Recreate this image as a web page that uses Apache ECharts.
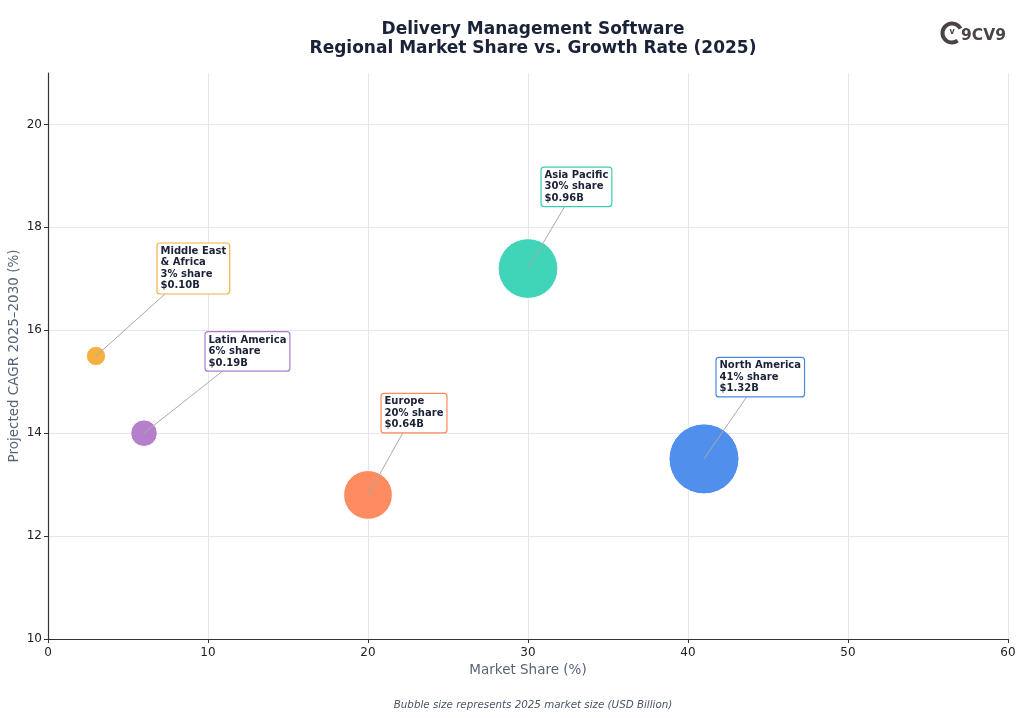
<!DOCTYPE html>
<html>
<head>
<meta charset="utf-8">
<script src="https://cdn.jsdelivr.net/npm/echarts@6/dist/echarts.min.js"></script>
<style>
html,body{margin:0;padding:0;background:#fff;}
#chart{width:1024px;height:718px;}
</style>
</head>
<body>
<div id="chart"></div>
<script>
// ---- data ----
const regions = ['North America', 'Asia Pacific', 'Europe', 'Latin America', 'Middle East & Africa'];
const marketShare = [41, 30, 20, 6, 3];          // %
const cagr = [13.5, 17.2, 12.8, 14.0, 15.5];     // projected CAGR 2025-2030 %
const marketSize = [1.32, 0.96, 0.64, 0.19, 0.10]; // USD Billion
const xTicks = [0, 10, 20, 30, 40, 50, 60];
const yTicks = [10, 12, 14, 16, 18, 20];

// ---- style ----
const colors = ['#5090EC', '#40D4B8', '#FF8C61', '#B57FCB', '#F6B042'];
const borderColors = ['#4A86E8', '#3CCDB0', '#FF8A5B', '#B07CC6', '#F5B041'];
const labelOffsets = [[12, -62], [13, -62], [13, -62], [61, -62], [61, -62]];
const FONT = '"DejaVu Sans", Verdana, sans-serif';
const labelFont = 'bold 10px ' + FONT;
const LINE_H = 11.5;

const measureCtx = document.createElement('canvas').getContext('2d');
measureCtx.font = labelFont;

function labelText(i) {
  const name = regions[i].replace(' & ', '\n& ');
  return name + '\n' + marketShare[i] + '% share\n$' + marketSize[i].toFixed(2) + 'B';
}

const bubbleData = marketShare.map((x, i) => ({
  value: [x, cagr[i], marketSize[i]],
  name: regions[i],
  itemStyle: { color: colors[i] }
}));
const annoData = marketShare.map((x, i) => [x, cagr[i]]);

const chart = echarts.init(document.getElementById('chart'));
chart.setOption({
  animation: false,
  backgroundColor: '#fff',
  title: [{
    text: 'Delivery Management Software\nRegional Market Share vs. Growth Rate (2025)',
    left: 528, top: 15, textAlign: 'center',
    textStyle: { fontFamily: FONT, fontWeight: 'bold', fontSize: 17, lineHeight: 19, color: '#1a2238' }
  }, {
    text: 'Bubble size represents 2025 market size (USD Billion)',
    left: 528, top: 695, textAlign: 'center',
    textStyle: { fontFamily: FONT, fontStyle: 'italic', fontWeight: 'normal', fontSize: 10.3, color: '#4a5568' }
  }],
  grid: { left: 48, right: 16, top: 73, bottom: 79, containLabel: false, outerBoundsMode: 'none' },
  xAxis: {
    type: 'value', min: 0, max: 60, interval: 10,
    name: 'Market Share (%)', nameLocation: 'middle', nameGap: 24,
    nameTextStyle: { fontFamily: FONT, fontSize: 13.5, color: '#5a6478' },
    axisLine: { show: true, lineStyle: { color: '#333', width: 1.2 } },
    axisTick: { show: true, inside: false, length: 4, lineStyle: { color: '#333' } },
    axisLabel: { fontFamily: FONT, fontSize: 12, color: '#222', margin: 8 },
    splitLine: { show: true, lineStyle: { color: '#e6e6f2', width: 1 } }
  },
  yAxis: {
    type: 'value', min: 10, max: 21, interval: 2,
    axisLine: { show: true, lineStyle: { color: '#333', width: 1.2 } },
    axisTick: { show: true, inside: false, length: 4, lineStyle: { color: '#333' }, customValues: yTicks },
    axisLabel: { fontFamily: FONT, fontSize: 12, color: '#222', margin: 6, customValues: yTicks },
    splitLine: { show: true, lineStyle: { color: '#e6e6f2', width: 1 } }
  },
  series: [{
    type: 'scatter',
    data: bubbleData,
    symbolSize: v => 61 * Math.sqrt(v[2]),
    itemStyle: { opacity: 1, borderColor: '#ffffff', borderWidth: 1 },
    z: 2
  }, {
    type: 'custom',
    data: annoData,
    clip: false,
    z: 5,
    encode: { x: 0, y: 1 },
    renderItem: function (params, api) {
      const i = params.dataIndex;
      const c = api.coord([api.value(0), api.value(1)]);
      const txt = labelText(i);
      const lines = txt.split('\n');
      const w = Math.max.apply(null, lines.map(l => measureCtx.measureText(l).width)) + 7;
      const h = lines.length * LINE_H + 5;
      const left = c[0] + labelOffsets[i][0];
      const bottom = c[1] + labelOffsets[i][1];
      const top = bottom - h;
      const cx = left + w / 2, cy = bottom - h / 2;
      const sx = (left - c[0]) / (cx - c[0]);
      const sy = (bottom - c[1]) / (cy - c[1]);
      const s = Math.max(sx, sy);
      const ex = c[0] + s * (cx - c[0]);
      const ey = c[1] + s * (cy - c[1]);
      return {
        type: 'group',
        children: [{
          type: 'line',
          shape: { x1: c[0], y1: c[1], x2: ex, y2: ey },
          style: { stroke: '#aaaaaa', lineWidth: 1 }
        }, {
          type: 'rect',
          shape: { x: left, y: top, width: w, height: h, r: 3 },
          style: { fill: '#ffffff', stroke: borderColors[i], lineWidth: 1.2 }
        }, {
          type: 'text',
          style: {
            x: left + 3.5, y: top + 2.5, text: txt, font: labelFont,
            fill: '#1a2238', lineHeight: LINE_H, verticalAlign: 'top', align: 'left'
          }
        }]
      };
    }
  }],
  graphic: [{
    type: 'text',
    x: 14, y: 356, rotation: Math.PI / 2,
    style: {
      text: 'Projected CAGR 2025–2030 (%)', font: '13.5px ' + FONT, fill: '#5a6478',
      align: 'center', verticalAlign: 'middle'
    }
  }, {
    type: 'group', left: 940, top: 21,
    children: [{
      type: 'arc',
      shape: { cx: 12, cy: 12, r: 9.5, startAngle: Math.PI * 0.3, endAngle: Math.PI * 1.85, clockwise: true },
      style: { stroke: '#4a4443', lineWidth: 4, fill: null }
    }, {
      type: 'text',
      style: { x: 12, y: 11, text: 'v', font: 'bold 8px ' + FONT, fill: '#4a4443', align: 'center', verticalAlign: 'middle' }
    }, {
      type: 'text',
      style: { x: 21, y: 15, text: '9CV9', font: 'bold 15.5px ' + FONT, fill: '#4a4443', align: 'left', verticalAlign: 'middle' }
    }]
  }]
});
</script>
</body>
</html>
